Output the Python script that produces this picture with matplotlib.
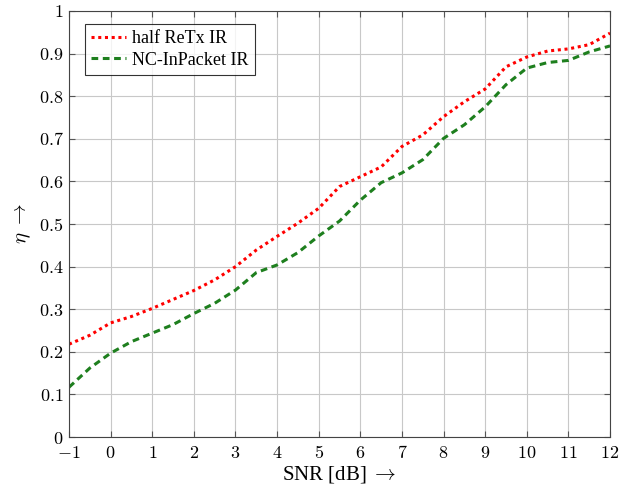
import matplotlib
matplotlib.use("Agg")
import matplotlib.pyplot as plt
import numpy as np

plt.rcParams['font.family'] = ['Liberation Serif', 'DejaVu Serif']
plt.rcParams['mathtext.fontset'] = 'cm'

snr = [-1, -0.5, 0, 0.5, 1, 1.5, 2, 2.5, 3, 3.5, 4, 4.5, 5, 5.5, 6, 6.5, 7, 7.5, 8, 8.5, 9, 9.5, 10, 10.5, 11, 11.5, 12]
half_retx = [0.218, 0.239, 0.268, 0.283, 0.302, 0.323, 0.344, 0.369, 0.400, 0.439, 0.471, 0.502, 0.537, 0.588, 0.611, 0.634, 0.682, 0.709, 0.752, 0.787, 0.817, 0.869, 0.892, 0.906, 0.911, 0.921, 0.948]
nc_inpacket = [0.117, 0.162, 0.197, 0.224, 0.244, 0.264, 0.290, 0.314, 0.345, 0.386, 0.404, 0.433, 0.472, 0.507, 0.556, 0.597, 0.620, 0.651, 0.701, 0.733, 0.775, 0.827, 0.866, 0.879, 0.884, 0.904, 0.918]
x_ticks = list(range(-1, 13))
y_ticks = [0, 0.1, 0.2, 0.3, 0.4, 0.5, 0.6, 0.7, 0.8, 0.9, 1]
y_tick_labels = ['0', '0.1', '0.2', '0.3', '0.4', '0.5', '0.6', '0.7', '0.8', '0.9', '1']

fig = plt.figure(figsize=(6.35, 4.9), dpi=100)
ax = fig.add_axes([0.1087, 0.108, 0.852, 0.8696])

ax.plot(snr, half_retx, color='red', linestyle=(0, (1, 1.2)), linewidth=2.2, label='half ReTx IR')
ax.plot(snr, nc_inpacket, color='#1e7f1e', linestyle=(0, (2.2, 1.5)), linewidth=2.2, label='NC-InPacket IR')

ax.set_xlim(-1, 12)
ax.set_ylim(0, 1)
ax.set_xticks(x_ticks)
ax.set_yticks(y_ticks)
ax.set_yticklabels(['$' + s + '$' for s in y_tick_labels])
ax.set_xticklabels(['$' + str(i) + '$' for i in x_ticks])
ax.grid(True, color='#c8c8c8', linewidth=0.8)
ax.set_axisbelow(True)
ax.tick_params(direction='in', top=True, right=True, length=4, labelsize=13, color='#555555', pad=4)
ax.tick_params(axis='x', pad=5.5)
for s in ax.spines.values():
    s.set_color('#444444')
    s.set_linewidth(0.8)

ax.set_xlabel(r'SNR [dB] $\rightarrow$', fontsize=15, labelpad=2)
ax.set_ylabel(r'$\eta$ $\rightarrow$', fontsize=15, labelpad=4)

leg = ax.legend(loc='upper left', bbox_to_anchor=(0.0296, 0.9695), borderaxespad=0, fontsize=13, frameon=True,
                fancybox=False, edgecolor='black', handlelength=1.9, handletextpad=0.35, borderpad=0.35,
                labelspacing=0.25)
leg.get_frame().set_linewidth(0.8)

fig.savefig('out.png', dpi=100)
